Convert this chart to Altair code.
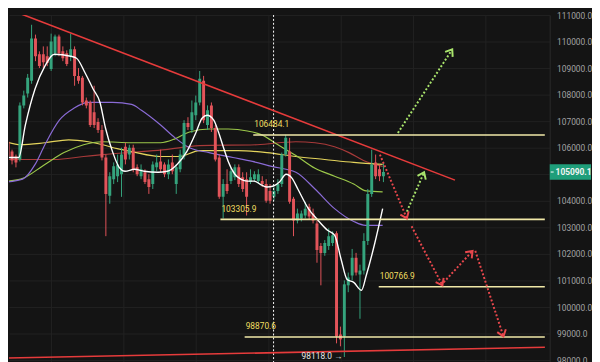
import math
import altair as alt
import pandas as pd

# ---------------- data ----------------
opens = [106231, 105860, 105675, 105564, 107602, 108047, 108528, 110122, 109529, 109529,
         109455, 108973, 109566, 110196, 109640, 109566, 109455, 109714, 108714, 108640,
         107787, 107713, 107343, 106972, 106675, 105638, 104192, 104822, 104934, 105008,
         106045, 105749, 106008, 105267, 104934, 105082, 104822, 104637, 105267, 105490,
         105378, 105008, 105453, 104637, 105193, 105675, 106935, 106675, 107231, 107713,
         108528, 106861, 107602, 106750, 105638, 104155, 104637, 104748, 104897, 105267,
         104897, 104822, 104711, 104822, 104748, 104748, 104637, 104378, 104155, 104378,
         104637, 105749, 105860, 104081, 103266, 103340, 103451, 103785, 103525, 103155,
         102302, 102043, 102302, 102414, 102784, 98967, 98893, 100820, 101191, 101858,
         101228, 101376, 102488, 104267, 105453, 105193, 104934]
highs = [106379, 105934, 105749, 107713, 108158, 108788, 110641, 110270, 109640, 109826,
         109826, 110307, 110270, 110270, 109826, 109677, 110307, 109826, 109010, 108714,
         107898, 107787, 108343, 107120, 106861, 105749, 105082, 105453, 105749, 106008,
         106194, 106120, 106120, 105378, 105378, 105193, 105008, 105490, 105749, 105934,
         105453, 105564, 105749, 105378, 105934, 107046, 107157, 107787, 107973, 108899,
         108714, 107602, 107713, 106861, 105749, 104822, 105193, 105267, 105378, 105378,
         105082, 105082, 105193, 105119, 105193, 104934, 104822, 104637, 104526, 104822,
         105823, 106490, 106379, 104155, 103711, 103637, 103970, 103896, 103711, 103266,
         102414, 102525, 102969, 102858, 102858, 99263, 101005, 101302, 102191, 102043,
         101598, 102784, 104452, 105934, 105749, 105378, 105453]
lows = [105564, 105378, 105267, 105490, 107491, 107898, 108417, 109270, 109010, 109010,
        109084, 108899, 109455, 109455, 109270, 109084, 109270, 108343, 108417, 107602,
        107491, 106787, 106750, 106564, 105527, 102673, 103896, 104637, 104711, 104155,
        105378, 105564, 105082, 104934, 104822, 104637, 104267, 104452, 105119, 105082,
        104897, 104822, 105008, 104267, 105082, 105564, 106675, 106564, 107046, 107602,
        106935, 106675, 106601, 105490, 104081, 103340, 104267, 104637, 104785, 104526,
        104341, 103451, 104637, 104711, 104637, 104526, 103933, 103896, 104007, 104267,
        104526, 105675, 103896, 102673, 103155, 103229, 103340, 103303, 103155, 101672,
        100820, 101932, 102154, 102302, 98633, 98522, 98118, 100561, 101005, 101191,
        99560, 101228, 102339, 104155, 104822, 104748, 104711]
closes = [105675, 105527, 105453, 107602, 107973, 108640, 110122, 109455, 109084, 109233,
          109196, 110011, 110196, 109566, 109381, 109159, 109714, 108714, 108528, 107713,
          107602, 106861, 106861, 106675, 105638, 104267, 104934, 105304, 105378, 105749,
          105564, 106008, 105193, 105008, 105193, 104711, 104526, 105378, 105453, 105193,
          105008, 105378, 105119, 105267, 105749, 106935, 106787, 107343, 107713, 108603,
          107046, 107417, 106750, 105564, 104155, 104637, 104378, 105119, 105267, 104637,
          104452, 104155, 104897, 105008, 105008, 104637, 104007, 104007, 104378, 104637,
          105749, 106379, 103970, 103266, 103525, 103525, 103711, 103414, 103266, 102154,
          102043, 102414, 102673, 102710, 98893, 98782, 100857, 101116, 101858, 101302,
          101376, 102488, 104267, 105378, 104934, 104934, 105090.1]

# moving-average curves (bar index, price)
ma_white_x = [-0.5, 2.7, 4.4, 6.9, 9.4, 11.8, 16.0, 17.5, 19.7, 21.7, 23.5, 24.9, 26.7, 28.4,
              29.9, 32.3, 34.8, 38.3, 40.7, 43.2, 45.7, 48.1, 49.6, 50.9, 52.6, 53.8, 55.1,
              56.3, 58.0, 59.5, 61.2, 63.0, 64.4, 66.2, 67.9, 69.4, 71.1, 72.6, 74.1, 76.8,
              79.3, 81.7, 83.5, 85.2, 86.7, 88.4, 90.4, 91.6, 93.8, 95.8]
ma_white_p = [105638, 105638, 106861, 108232, 109084, 109529, 109455, 109381, 108825, 108232,
              107713, 106750, 105860, 105267, 105119, 105193, 105119, 105082, 105119, 105378,
              105860, 106601, 107120, 107231, 107046, 106601, 106008, 105490, 105008, 104822,
              104748, 104748, 104637, 104526, 104563, 104711, 105008, 104860, 104452, 103711,
              103266, 102895, 102710, 101784, 101042, 100931, 100635, 101191, 102414, 103711]
ma_purple_x = [-0.5, 3.7, 6.9, 9.4, 13.1, 16.8, 20.5, 26.7, 31.6, 34.1, 39.0, 42.7, 46.4,
               51.4, 57.5, 62.5, 67.4, 73.6, 78.5, 83.5, 88.4, 91.4, 95.8]
ma_purple_p = [104711, 104822, 105378, 106120, 107046, 107491, 107713, 107713, 107639, 107417,
               106861, 106379, 106008, 105823, 105638, 105490, 105304, 105082, 104452, 103711,
               103229, 103081, 103081]
ma_green_x = [-0.5, 3.2, 9.4, 14.3, 19.3, 24.2, 31.6, 39.0, 42.7, 46.4, 51.4, 56.3, 61.2,
              64.9, 68.6, 71.1, 73.6, 78.5, 83.5, 88.4, 91.6, 95.8]
ma_green_p = [104748, 104822, 105378, 105823, 106120, 106231, 106194, 106194, 106342, 106601,
              106712, 106712, 106638, 106490, 106157, 105934, 105712, 105230, 104934, 104637,
              104378, 104341]
ma_yellow_x = [-0.5, 3.2, 9.4, 15.5, 20.5, 24.2, 27.9, 31.6, 39.0, 43.9, 48.9, 58.8, 66.2,
               73.6, 81.0, 88.4, 95.8]
ma_yellow_p = [106231, 106120, 106194, 106305, 106231, 106120, 105971, 105860, 105675, 105675,
               105897, 105897, 105823, 105675, 105564, 105453, 105378]
ma_red_x = [-0.5, 11.8, 19.3, 24.2, 34.1, 40.2, 48.9, 63.7, 73.6, 78.5, 83.5, 87.2, 90.9, 95.8]
ma_red_p = [105564, 105564, 105675, 105749, 105860, 105934, 106083, 106120, 106231, 106194,
            106045, 105823, 105527, 105304]

# trend lines
trend_x = [2.0, 114.3, -0.5, 137.3]
trend_p = [111123, 104785, 98078, 98486]
trend_id = ["top", "top", "bottom", "bottom"]

# horizontal levels
level_values = [106484.1, 103305.9, 100766.9, 98870.6]
level_labels = ["106484.1", "103305.9", "100766.9", "98870.6"]
level_start = [62.7, 54.3, 94.8, 60.5]

# projected path arrows
arrow_x1 = [99.7, 102.0, 95.1, 103.2, 111.4, 119.5]
arrow_p1 = [106564, 103600, 105749, 103044, 100931, 102117]
arrow_x2 = [113.6, 106.4, 102.0, 111.1, 118.8, 126.7]
arrow_p2 = [109714, 105082, 103340, 100820, 102117, 98893]
arrow_kind = ["up", "up", "down", "down", "down", "down"]

vgrid_x = [11.1, 29.6, 48.1, 66.7, 85.2, 103.7, 122.2]
# 105000.0 is hidden behind the last-price tag in the reference
y_ticks = [98000, 99000, 100000, 101000, 102000, 103000, 104000,
           106000, 107000, 108000, 109000, 110000, 111000]
hidden_grid = [105000]
marker_x = 67.9
low_label = "98118.0 →"
low_value = 98118.0
low_index = 86
last_price = 105090.1

# ---------------- chart ----------------
W, H = 550, 354
X_DOM = [1.475, 137.28]
Y_DOM = [97892, 111011]
BG = "#141414"
GREEN = "#35a47d"
RED = "#e2545a"
ARROW_GREEN = "#a9e46c"
ARROW_RED = "#e8474c"
GRID = "#222222"
FONT = "Roboto"

xs = alt.Scale(domain=X_DOM, nice=False, zero=False)
ys = alt.Scale(domain=Y_DOM, nice=False, zero=False)
yaxis = alt.Axis(orient="right", values=y_ticks, format=".1f",
                 labelColor="#a3a3a3", labelFontSize=8.5, labelFont=FONT, tickSize=0,
                 labelPadding=7, domain=True, domainColor="#2a2a2a", grid=True,
                 gridColor=GRID, gridWidth=1, title=None, labelFlush=False)


def X(field):
    return alt.X(field, type="quantitative", scale=xs, axis=None)


def Y(field):
    return alt.Y(field, type="quantitative", scale=ys, axis=yaxis)


n = len(opens)
candles = pd.DataFrame({
    "i": list(range(n)), "o": opens, "h": highs, "l": lows, "c": closes,
})
candles["dir"] = ["up" if c >= o else "down" for o, c in zip(opens, closes)]
cscale = alt.Scale(domain=["up", "down"], range=[GREEN, RED])

grid = alt.Chart(pd.DataFrame({"x": vgrid_x})).mark_rule(
    color=GRID, strokeWidth=1).encode(x=X("x"))
hgrid = alt.Chart(pd.DataFrame({"p": hidden_grid})).mark_rule(
    color=GRID, strokeWidth=1).encode(y=Y("p"))

wicks = alt.Chart(candles).mark_rule(strokeWidth=1, clip=True).encode(
    x=X("i"), y=Y("l"), y2="h:Q",
    color=alt.Color("dir:N", scale=cscale, legend=None))
bodies = alt.Chart(candles).mark_bar(width=3, clip=True).encode(
    x=X("i"), y=Y("o"), y2="c:Q",
    color=alt.Color("dir:N", scale=cscale, legend=None))


def ma_layer(xv, pv, color, w=1.2):
    df = pd.DataFrame({"x": xv, "p": pv, "k": list(range(len(xv)))})
    return alt.Chart(df).mark_line(color=color, strokeWidth=w, interpolate="monotone",
                                   clip=True).encode(x=X("x"), y=Y("p"), order="k:Q")


mas = [
    ma_layer(ma_red_x, ma_red_p, "#a83a3a"),
    ma_layer(ma_yellow_x, ma_yellow_p, "#e4d45c"),
    ma_layer(ma_green_x, ma_green_p, "#9cc84a"),
    ma_layer(ma_purple_x, ma_purple_p, "#8a6bd6"),
    ma_layer(ma_white_x, ma_white_p, "#ffffff", 1.4),
]

marker = alt.Chart(pd.DataFrame({"x": [marker_x]})).mark_rule(
    color="#ffffff", strokeDash=[2, 2], strokeWidth=1, clip=True).encode(x=X("x"))

trend = alt.Chart(pd.DataFrame({"x": trend_x, "p": trend_p, "id": trend_id})).mark_line(
    color="#e63b3b", strokeWidth=1.6, clip=True).encode(x=X("x"), y=Y("p"), detail="id:N")

lv = pd.DataFrame({"p": level_values, "lab": level_labels, "x": level_start,
                   "x2": [X_DOM[1]] * len(level_values)})
level_rules = alt.Chart(lv).mark_rule(color="#f1e9a8", strokeWidth=1.6, clip=True).encode(
    x=X("x"), x2="x2:Q", y=Y("p"))
level_text = alt.Chart(lv).mark_text(align="left", baseline="middle", dx=1, dy=-11,
                                     font=FONT, fontSize=8.5, color="#f2df62").encode(
    x=X("x"), y=Y("p"), text="lab:N")

low_text = alt.Chart(pd.DataFrame({"x": [low_index], "p": [low_value], "t": [low_label]})).mark_text(
    align="right", baseline="middle", dx=-2, dy=-1, font=FONT, fontSize=8.5,
    color="#e8e8e8").encode(x=X("x"), y=Y("p"), text="t:N")

kx = W / (X_DOM[1] - X_DOM[0])
ky = H / (Y_DOM[1] - Y_DOM[0])
rows, heads = [], []
for j, (a, b, c, d, k) in enumerate(zip(arrow_x1, arrow_p1, arrow_x2, arrow_p2, arrow_kind)):
    rows.append({"id": j, "ord": 0, "x": a, "p": b, "kind": k})
    rows.append({"id": j, "ord": 1, "x": c, "p": d, "kind": k})
    ang = math.degrees(math.atan2((c - a) * kx, (d - b) * ky)) % 360
    heads.append({"x": c, "p": d, "kind": k, "ang": ang})
rows = pd.DataFrame(rows)
heads = pd.DataFrame(heads)
ARROW = "M -0.75 1 L 0 0 L 0.75 1"

arrow_layers = []
for kind, col in [("up", ARROW_GREEN), ("down", ARROW_RED)]:
    arrow_layers.append(alt.Chart(rows[rows["kind"] == kind]).mark_line(
        strokeDash=[2, 2], strokeWidth=2, color=col, clip=True).encode(
        x=X("x"), y=Y("p"), detail="id:N", order="ord:Q"))
    arrow_layers.append(alt.Chart(heads[heads["kind"] == kind]).mark_point(
        shape=ARROW, filled=False, strokeWidth=2, size=150, opacity=1, color=col,
        clip=True).encode(x=X("x"), y=Y("p"), angle=alt.Angle("ang:Q", scale=None)))

tag_df = pd.DataFrame({"p": [last_price], "hi": [last_price + 290], "lo": [last_price - 290],
                       "t": [f"{last_price:.1f}"]})
tag_rect = alt.Chart(tag_df).mark_rect(color="#1f9e7a").encode(
    x=alt.value(W), x2=alt.value(W + 42), y=Y("hi"), y2="lo:Q")
tag_dash = alt.Chart(tag_df).mark_rule(color="#ffffff", strokeWidth=1).encode(
    x=alt.value(W + 1), x2=alt.value(W + 4), y=Y("p"))
tag_text = alt.Chart(tag_df).mark_text(align="left", baseline="middle", font=FONT,
                                       fontSize=8.5, fontWeight="bold", color="#f4f4f4").encode(
    x=alt.value(W + 6), y=Y("p"), text="t:N")

chart = alt.layer(
    grid, hgrid, *mas[:4], wicks, bodies, mas[4], marker, trend, level_rules, level_text,
    low_text, *arrow_layers, tag_rect, tag_dash, tag_text
).properties(width=W, height=H, background=BG, padding=0).configure_view(stroke=None)

chart.save("out.html", embed_options={"renderer": "svg", "actions": False})
